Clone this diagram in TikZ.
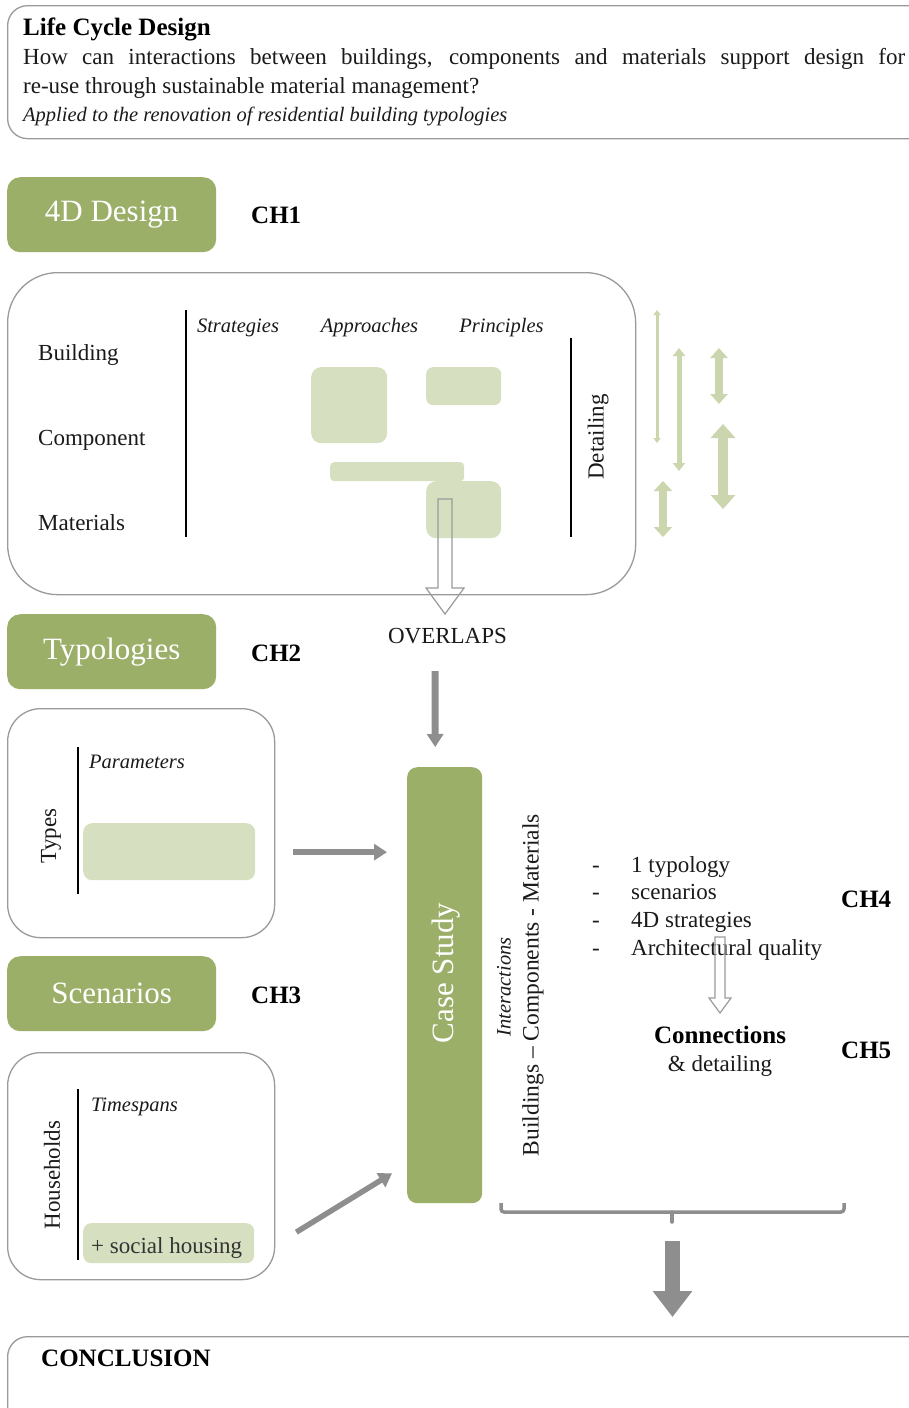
\documentclass[tikz,border=0pt]{standalone}
\usepackage{fontspec}
\setmainfont{Liberation Serif}
\usetikzlibrary{arrows.meta,calc}

\definecolor{leaf}{HTML}{9BAF69}
\definecolor{paletile}{HTML}{D6E0C1}
\definecolor{palearrow}{HTML}{CBD6AE}
\definecolor{framegrey}{HTML}{9A9A9A}
\definecolor{flowgrey}{HTML}{8E8E8E}
\definecolor{ink}{HTML}{1A1A1A}

\newcommand\txtreg{\fontsize{23}{28}\selectfont}
\newcommand\txtit{\fontsize{20.5}{25}\selectfont\itshape}
\newcommand\txtbold{\fontsize{25}{30}\selectfont\bfseries}
\newcommand\txthead{\fontsize{31}{37}\selectfont}

\tikzset{
  panel/.style={draw=framegrey, line width=1.3pt, rounded corners=#1,
    inner sep=0pt, anchor=north west},
  heading/.style={fill=leaf, rounded corners=13pt, minimum width=209pt,
    minimum height=75pt, text=white, font=\txthead, inner sep=0pt, anchor=north west},
  tile/.style={fill=paletile, rounded corners=#1, inner sep=0pt, anchor=north west},
  label/.style={anchor=base west, inner sep=0pt, text=ink, font=\txtreg},
  itlabel/.style={anchor=base, inner sep=0pt, text=ink, font=\txtit},
  chapter/.style={anchor=base west, inner sep=0pt, text=black, font=\txtbold},
  rule/.style={draw=black, line width=1.8pt},
  flow/.style={draw=flowgrey, line width=#1, -{Triangle[width=16pt,length=13pt]}},
  hollow/.style={draw=framegrey, line width=1.2pt, line join=miter},
  twoway/.style n args={3}{draw=palearrow, line width=#1,
    {Triangle[width=#2,length=#3]}-{Triangle[width=#2,length=#3]}},
}

\begin{document}
\begin{tikzpicture}[x=1pt,y=-1pt]
\useasboundingbox (0,0) rectangle (909,1408);
\clip (0,0) rectangle (909,1408);
\fill[white] (0,0) rectangle (909,1408);

% research question
\node[panel=20pt, minimum width=940pt, minimum height=133pt] (question) at (7,5) {};
\node[chapter] (title) at (23,35) {Life Cycle Design};
\node[label] (q1) at (23,64) {\makebox[882pt][s]{How can interactions between buildings, components and materials support design for}};
\node[label] (q2) at (23,93) {re-use through sustainable material management?};
\node[label, font=\txtit] (q3) at (23,121) {Applied to the renovation of residential building typologies};

% chapter 1: 4D design
\node[heading] (h1) at (7,177) {4D Design};
\node[chapter] (ch1) at (251,223) {CH1};
\node[panel=50pt, minimum width=628pt, minimum height=322pt] (design) at (7,272) {};
\node[label] (lb) at (38,360) {Building};
\node[label] (lc) at (38,445) {Component};
\node[label] (lm) at (38,530) {Materials};
\draw[rule] (186,310) -- (186,537);
\draw[rule] (571,338) -- (571,537);
\node[itlabel] (strat) at (238,332) {Strategies};
\node[itlabel] (appr) at (369.5,332) {Approaches};
\node[itlabel] (princ) at (501.5,332) {Principles};
\node[rotate=90, inner sep=0pt, text=ink, font=\txtreg] (detail) at (598,437) {Detailing};
\node[tile=10pt, minimum width=76pt, minimum height=76pt] (ta) at (311,367) {};
\node[tile=7pt, minimum width=75pt, minimum height=38pt] (tb) at (426,367) {};
\node[tile=4pt, minimum width=134pt, minimum height=19pt] (tc) at (330,462) {};
\node[tile=10pt, minimum width=75pt, minimum height=57pt] (td) at (426,481) {};

% open arrow towards the overlaps
\draw[hollow] (438,499) -- (452,499) -- (452,588) -- (464,588) -- (445,614)
  -- (426,588) -- (438,588) -- cycle;
\node[anchor=base, inner sep=0pt, text=ink, font=\txtreg] (overlaps) at (447.5,643) {OVERLAPS};

% scale arrows
\coordinate (s1a) at (657,310); \coordinate (s1b) at (657,443);
\coordinate (s2a) at (679,348); \coordinate (s2b) at (679,471);
\coordinate (s3a) at (719,348); \coordinate (s3b) at (719,404);
\coordinate (s4a) at (723,424); \coordinate (s4b) at (723,509);
\coordinate (s5a) at (663,481); \coordinate (s5b) at (663,537);
\draw[twoway={3pt}{7pt}{5pt}] (s1a) -- (s1b);
\draw[twoway={5pt}{12pt}{8pt}] (s2a) -- (s2b);
\draw[twoway={8pt}{17pt}{10pt}] (s3a) -- (s3b);
\draw[twoway={10pt}{24pt}{14pt}] (s4a) -- (s4b);
\draw[twoway={8pt}{18pt}{10pt}] (s5a) -- (s5b);

% chapter 2: typologies
\node[heading] (h2) at (7,614) {Typologies};
\node[chapter] (ch2) at (251,661) {CH2};
\node[panel=33pt, minimum width=267pt, minimum height=229pt] (types) at (7,708) {};
\draw[rule] (78,747) -- (78,894);
\node[rotate=90, inner sep=0pt, text=ink, font=\txtreg] (typeslbl) at (51,836) {Types};
\node[label, font=\txtit] (param) at (89,768) {Parameters};
\node[tile=9pt, minimum width=172pt, minimum height=57pt] (tp) at (83,823) {};

% chapter 3: scenarios
\node[heading] (h3) at (7,956) {Scenarios};
\node[chapter] (ch3) at (251,1003) {CH3};
\node[panel=33pt, minimum width=267pt, minimum height=227pt] (house) at (7,1052) {};
\draw[rule] (78,1089) -- (78,1260);
\node[rotate=90, inner sep=0pt, text=ink, font=\txtreg] (hhlbl) at (52,1175) {Households};
\node[label, font=\txtit] (tspan) at (91,1111) {Timespans};
\node[tile=8pt, minimum width=171pt, minimum height=40pt] (ts) at (83,1223) {};
\node[label, text=black!80] (social) at (91,1253) {+ social housing};

% case study
\node[fill=leaf, rounded corners=10pt, inner sep=0pt, anchor=north west,
  minimum width=75pt, minimum height=436pt] (case) at (407,767) {};
\node[rotate=90, inner sep=0pt, text=white, font=\txthead] (caselbl) at (446,973) {Case Study};
\node[rotate=90, inner sep=0pt, text=ink, font=\txtit] (inter) at (504,987) {Interactions};
\node[rotate=90, inner sep=0pt, text=ink, font=\fontsize{23.5}{28}\selectfont] (bcm) at (533,985) {Buildings -- Components - Materials};

% inputs to the case study
\draw[flow=7pt] ([xshift=-12.5pt,yshift=-28pt]overlaps.base)
  -- ([xshift=-9.5pt,yshift=20pt]case.north);
\draw[flow=5.5pt, shorten <=18pt, shorten >=20pt] ([yshift=-29pt]types.east)
  -- ([yshift=-29pt]types.east -| case.west);
\draw[flow=5.5pt] ([xshift=21pt,yshift=-66pt]house.east) -- ([xshift=-15pt,yshift=30pt]case.south west);

% chapter 4 and 5
\foreach \n/\y/\t in {1/872/1 typology, 2/899/scenarios, 3/927/4D strategies, 4/955/Architectural quality}{
  \node[anchor=base, inner sep=0pt, text=ink, font=\txtreg] (dash\n) at (596,\y) {-};
  \node[label] (item\n) at (631,\y) {\t};
}
\node[chapter] (ch4) at (841,907) {CH4};
\draw[hollow] (715,937) -- (725,937) -- (725,998) -- (731,998) -- (720,1013)
  -- (709,998) -- (715,998) -- cycle;
\node[anchor=base, inner sep=0pt, text=black, font=\txtbold] (conn) at (720,1043) {Connections};
\node[anchor=base, inner sep=0pt, text=ink, font=\txtreg] (detl) at (720,1071) {\& detailing};
\node[chapter] (ch5) at (841,1058) {CH5};

% bracket and conclusion
\coordinate (brl) at (501,1203);
\coordinate (brr) at (844,1203);
\coordinate (brm) at (672,1212);
\draw[flowgrey, line width=3.5pt, rounded corners=3pt]
  (brl) -- (brl |- brm) -- (brr |- brm) -- (brr);
\draw[flowgrey, line width=3.5pt, line cap=round] (brm) -- ++(0,10);
\coordinate (bigtop) at (672.5,1241);
\coordinate (bigtip) at (672.5,1317);
\draw[flowgrey, line width=15pt, -{Triangle[width=38pt,length=26pt]}] (bigtop) -- (bigtip);
\node[panel=20pt, minimum width=940pt, minimum height=120pt] (concl) at (7,1336) {};
\node[chapter] (concllbl) at (41,1366) {CONCLUSION};
\end{tikzpicture}
\end{document}
